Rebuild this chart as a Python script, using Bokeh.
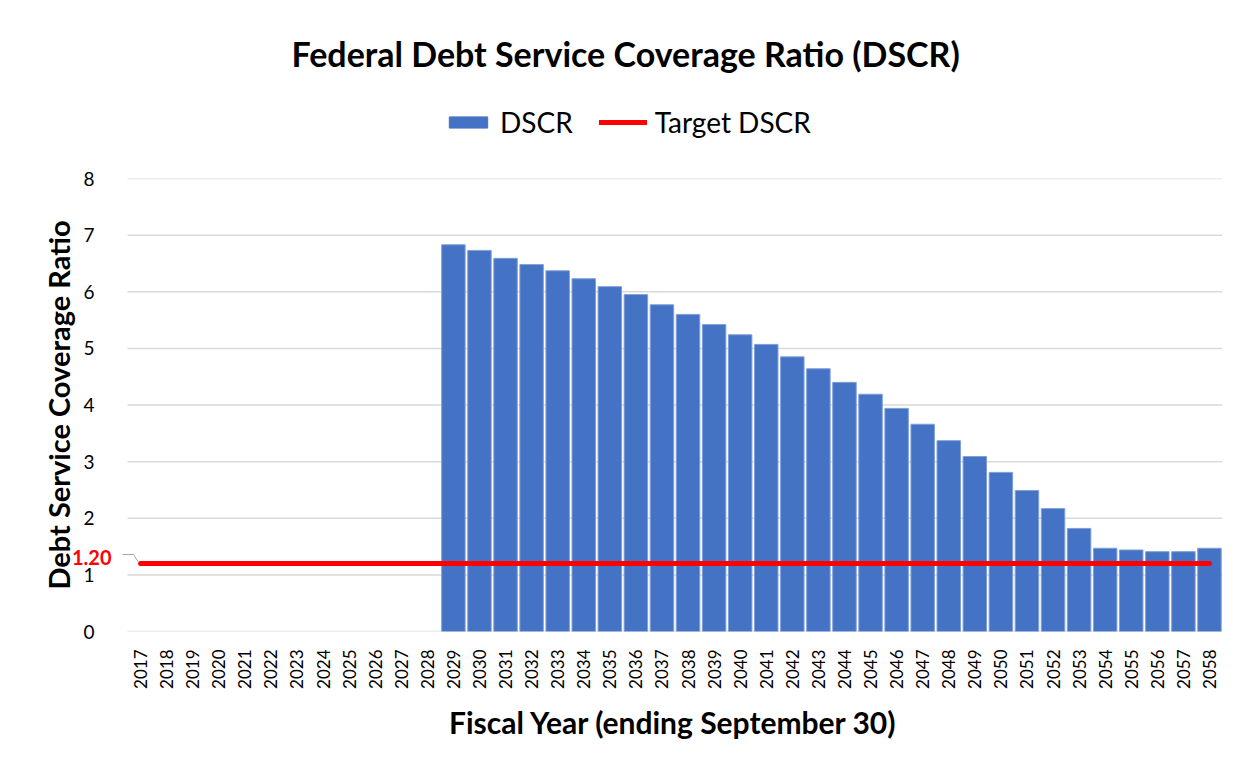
import math
from bokeh.plotting import figure
from bokeh.models import (ColumnDataSource, Legend, LegendItem, Label, Range1d,
                          FixedTicker, Arrow)
from bokeh.layouts import column
from bokeh.embed import file_html
from bokeh.resources import INLINE

NaN = float("nan")
years = list(range(2017, 2059))
dscr = [NaN] * 12 + [
    6.83, 6.73, 6.59, 6.48, 6.37, 6.23, 6.09, 5.95, 5.77, 5.60,
    5.42, 5.24, 5.07, 4.85, 4.64, 4.40, 4.19, 3.94, 3.66, 3.37,
    3.09, 2.81, 2.49, 2.17, 1.82, 1.47, 1.44, 1.41, 1.41, 1.47,
]
target = [1.2] * len(years)
y_ticks = [0, 1, 2, 3, 4, 5, 6, 7, 8]
title_text = "Federal Debt Service Coverage Ratio (DSCR)"
x_title = "Fiscal Year (ending September 30)"
y_title = "Debt Service Coverage Ratio"
series_names = ["DSCR", "Target DSCR"]

FONT = "Lato"
BAR = "#4472C4"
RED = "#FF0000"
GRID = "#d9d9d9"

W = 1249
TOP_H = 166
FOOT_H = 67
FRAME_L = 70   # frames in the column are aligned to this left edge


def strip(h):
    f = figure(width=W, height=h, x_range=Range1d(0, W), y_range=Range1d(0, h),
               x_axis_type=None, y_axis_type=None, output_backend="svg",
               toolbar_location=None, min_border=0)
    f.outline_line_color = None
    f.grid.visible = False
    return f


# ---------------- header (title + legend) ----------------
head = strip(TOP_H)
head.add_layout(Label(x=292 - 71, y=TOP_H - 53, x_units="screen", y_units="screen",
                      text=title_text, text_align="left", text_baseline="middle",
                      text_font=FONT, text_font_size="34px", text_font_style="bold",
                      text_color="#000000"))
swatch = ColumnDataSource(dict(x=[NaN], y=[NaN]))
r_bar = head.vbar(x="x", top="y", width=1, source=swatch, fill_color=BAR, line_color=BAR)
r_line = head.line(x="x", y="y", source=swatch, line_color=RED, line_width=5, line_cap="round")
legend = Legend(items=[LegendItem(label=series_names[0], renderers=[r_bar]),
                       LegendItem(label=series_names[1], renderers=[r_line])],
                orientation="horizontal", location=(374, TOP_H - 139),
                label_text_font=FONT, label_text_font_size="28px", label_text_color="#000000",
                glyph_width=48, glyph_height=14, spacing=26, label_standoff=8,
                padding=0, margin=0, border_line_color=None, background_fill_alpha=0)
head.add_layout(legend, "center")

# ---------------- main chart ----------------
src = ColumnDataSource(dict(year=years, dscr=dscr, target=target))
n = len(years)
step = 1095 / n
x_lo = years[0] - 0.5
x_hi = years[-1] + 0.5

p = figure(x_range=Range1d(x_lo - (127 - FRAME_L) / step, x_hi), y_range=Range1d(0, 8),
           frame_width=W - FRAME_L - 27, frame_height=453, output_backend="svg",
           toolbar_location=None, min_border_left=FRAME_L, min_border_right=27,
           min_border_top=12, min_border_bottom=70)
p.outline_line_color = None
p.xgrid.grid_line_color = None
p.ygrid.grid_line_color = None

# gridlines limited to the category span
gsrc = ColumnDataSource(dict(x0=[x_lo] * len(y_ticks), x1=[x_hi] * len(y_ticks), y=y_ticks))
p.segment(x0="x0", y0="y", x1="x1", y1="y", source=gsrc, line_color=GRID, line_width=1.5)

p.vbar(x="year", top="dscr", width=0.9, source=src,
       fill_color=BAR, line_color="#7f9fd9", line_width=1)
p.line(x="year", y="target", source=src, line_color=RED, line_width=5, line_cap="round")

p.yaxis.ticker = FixedTicker(ticks=y_ticks)
p.yaxis.axis_line_color = None
p.yaxis.major_tick_line_color = None
p.yaxis.minor_tick_line_color = None
p.yaxis.major_label_standoff = -30
p.yaxis.major_label_text_font = FONT
p.yaxis.major_label_text_font_size = "19px"
p.yaxis.major_label_text_color = "#000000"
p.yaxis.axis_label = y_title
p.yaxis.axis_label_text_font = FONT
p.yaxis.axis_label_text_font_size = "29px"
p.yaxis.axis_label_text_font_style = "bold"
p.yaxis.axis_label_text_color = "#000000"
p.yaxis.axis_label_standoff = 4

p.xaxis.ticker = FixedTicker(ticks=years)
p.xaxis.axis_line_color = None
p.xaxis.major_tick_line_color = None
p.xaxis.minor_tick_line_color = None
p.xaxis.major_label_orientation = math.pi / 2
p.xaxis.major_label_standoff = 12
p.xaxis.major_label_text_font = FONT
p.xaxis.major_label_text_font_size = "17px"
p.xaxis.major_label_text_color = "#000000"

# data label for the target line
p.add_layout(Label(x=x_lo, y=target[0], text="%.2f" % target[0], text_align="right",
                   text_baseline="middle", x_offset=-16, y_offset=6, text_color=RED,
                   text_font=FONT, text_font_size="20px", text_font_style="bold"))
# leader line (screen units relative to the frame)
p.add_layout(Arrow(end=None, x_start=52, y_start=77, x_end=63, y_end=77,
                   start_units="screen", end_units="screen", line_color="#a6a6a6", line_width=1))
p.add_layout(Arrow(end=None, x_start=63, y_start=77, x_end=68, y_end=69,
                   start_units="screen", end_units="screen", line_color="#a6a6a6", line_width=1))

# ---------------- footer (x axis title) ----------------
foot = strip(FOOT_H)
foot.add_layout(Label(x=603, y=FOOT_H - 20, x_units="screen", y_units="screen", text=x_title,
                      text_align="center", text_baseline="middle", text_font=FONT,
                      text_font_size="30px", text_font_style="bold", text_color="#000000"))

layout = column(head, p, foot, spacing=0)
open("out.html", "w").write(file_html(layout, INLINE))
